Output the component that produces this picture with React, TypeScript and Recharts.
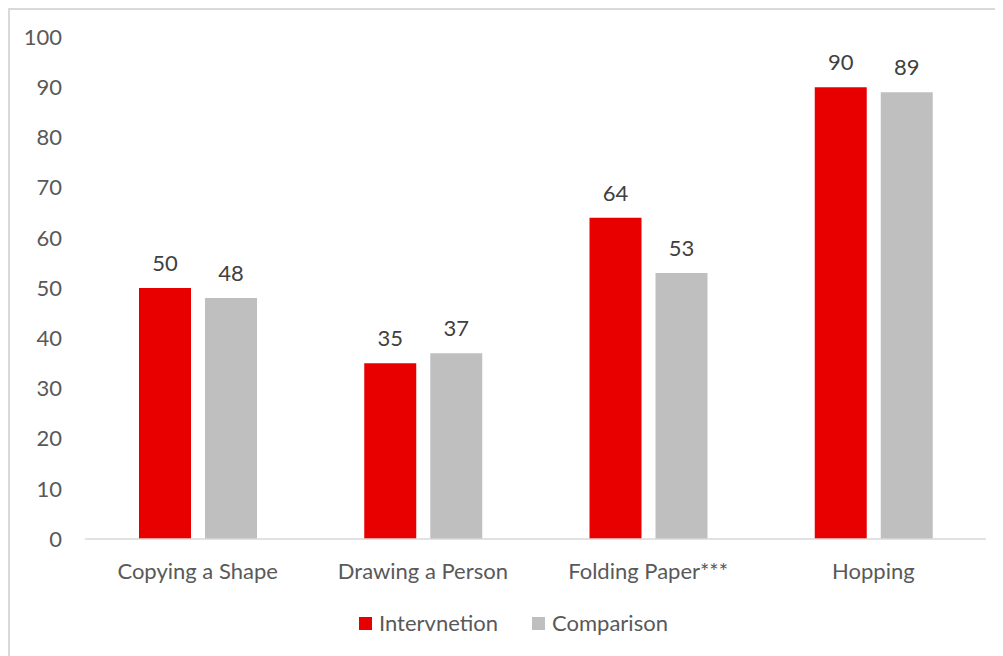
import React from "react";
import { BarChart, Bar, XAxis, YAxis, LabelList } from "recharts";

const categories = ["Copying a Shape", "Drawing a Person", "Folding Paper***", "Hopping"];
const intervention = [50, 35, 64, 90];
const comparison = [48, 37, 53, 89];
const yTicks = [0, 10, 20, 30, 40, 50, 60, 70, 80, 90, 100];

const RED = "#E80000";
const GREY = "#BFBFBF";
const FONT = "Lato, 'Open Sans', sans-serif";

const data = categories.map((name, i) => ({
  name,
  intervention: intervention[i],
  comparison: comparison[i],
}));

const legendItems = [
  { label: "Intervnetion", color: RED },
  { label: "Comparison", color: GREY },
];

function ChartLegend() {
  return (
    <div
      style={{
        position: "absolute",
        left: 349,
        top: 600,
        display: "flex",
        alignItems: "center",
        gap: 34,
        fontFamily: FONT,
        fontSize: 22,
        lineHeight: "26px",
        color: "#595959",
      }}
    >
      {legendItems.map((item) => (
        <div key={item.label} style={{ display: "flex", alignItems: "center", gap: 7 }}>
          <span style={{ width: 13, height: 13, background: item.color, display: "inline-block" }} />
          <span>{item.label}</span>
        </div>
      ))}
    </div>
  );
}

export default function App() {
  return (
    <div
      style={{
        position: "relative",
        width: 995,
        height: 648,
        borderTop: "2px solid #D9D9D9",
        borderLeft: "2px solid #D9D9D9",
        boxSizing: "border-box",
        background: "#fff",
      }}
    >
      <div style={{ position: "absolute", left: -2, top: -2 }}>
        <BarChart
          width={995}
          height={648}
          data={data}
          margin={{ top: 29, right: 17, bottom: 0, left: 0 }}
          barGap={14}
          barCategoryGap={54}
        >
          <XAxis
            dataKey="name"
            height={117}
            tickLine={false}
            axisLine={{ stroke: "#D9D9D9", strokeWidth: 1.5 }}
            tickSize={0}
            tickMargin={24}
            interval={0}
            tick={{ fill: "#595959", fontSize: 22, fontFamily: FONT }}
          />
          <YAxis
            width={77}
            domain={[0, 100]}
            ticks={yTicks}
            axisLine={false}
            tickLine={false}
            tickSize={0}
            tickMargin={23}
            tick={{ fill: "#595959", fontSize: 22, fontFamily: FONT }}
          />
          <Bar dataKey="intervention" name="Intervnetion" fill={RED} isAnimationActive={false}>
            <LabelList dataKey="intervention" position="top" offset={17} fill="#404040" fontSize={22} fontFamily={FONT} />
          </Bar>
          <Bar dataKey="comparison" name="Comparison" fill={GREY} isAnimationActive={false}>
            <LabelList dataKey="comparison" position="top" offset={17} fill="#404040" fontSize={22} fontFamily={FONT} />
          </Bar>
        </BarChart>
      </div>
      <ChartLegend />
    </div>
  );
}
